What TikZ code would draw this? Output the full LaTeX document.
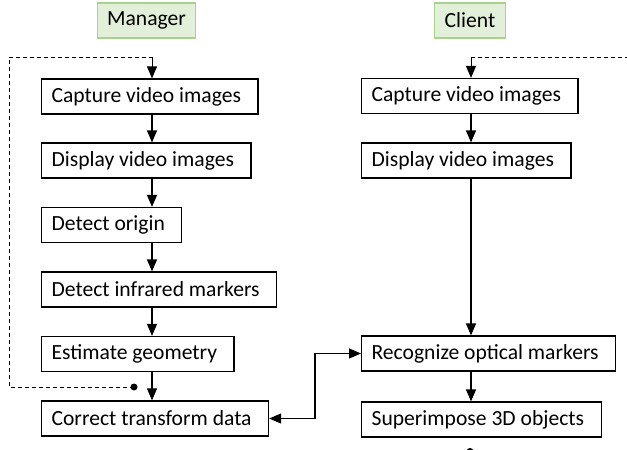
\documentclass[tikz,border=0pt]{standalone}
\usepackage{fontspec}
\setmainfont{Carlito}
\usetikzlibrary{arrows.meta}
\definecolor{rolefill}{HTML}{E2EFD9}
\definecolor{roledraw}{HTML}{A9D18E}

\begin{document}
\begin{tikzpicture}[x=0.5pt, y=-0.5pt,
   font=\fontsize{10.8}{13}\selectfont,
   >={Triangle[length=6pt,width=5pt]},
   stage/.style={draw, line width=0.6pt, anchor=west, minimum height=17.5pt,
                 inner xsep=5pt, inner ysep=0pt, execute at end node=\hspace{3.5pt}},
   role/.style={draw=roledraw, fill=rolefill, line width=0.6pt, minimum height=17.5pt,
                inner xsep=5pt, inner ysep=0pt},
   flowarrow/.style={->, line width=0.6pt},
   feedback/.style={dash pattern=on 2pt off 1.5pt, line width=0.5pt}]

\useasboundingbox (0,0) rectangle (627,450);

\node[role] (mgr) at (146.5,20.5) {Manager};
\node[role] (cli) at (470,20.5) {Client};

\node[stage] (mcap)  at (41,96.5)  {Capture video images};
\node[stage] (mdisp) at (41,160.5) {Display video images};
\node[stage] (morig) at (41,225)   {Detect origin};
\node[stage] (mir)   at (41,289.5) {Detect infrared markers};
\node[stage] (mgeo)  at (41,354)   {Estimate geometry};
\node[stage] (mcorr) at (41,418.5) {Correct transform data};

\node[stage] (ccap)  at (361,96)    {Capture video images};
\node[stage] (cdisp) at (361,160.5) {Display video images};
\node[stage] (crec)  at (361,353.5) {Recognize optical markers};
\node[stage] (csup)  at (361,419.5) {Superimpose 3D objects};

\coordinate (mx) at (152,0);
\coordinate (cx) at (471,0);
\coordinate (bend) at (315,0);
\coordinate (mdot) at (134,387);
\coordinate (cdot) at (470,451.5);

\draw[flowarrow] (mcap.south -| mx)  -- (mdisp.north -| mx);
\draw[flowarrow] (mdisp.south -| mx) -- (morig.north -| mx);
\draw[flowarrow] (morig.south -| mx) -- (mir.north -| mx);
\draw[flowarrow] (mir.south -| mx)   -- (mgeo.north -| mx);
\draw[flowarrow] (mgeo.south -| mx)  -- (mcorr.north -| mx);

\draw[flowarrow] (ccap.south -| cx)  -- (cdisp.north -| cx);
\draw[flowarrow] (cdisp.south -| cx) -- (crec.north -| cx);
\draw[flowarrow] (crec.south -| cx)  -- (csup.north -| cx);

\draw[<->, line width=0.6pt] (mcorr.east) -- (mcorr.east -| bend) |- (crec.west);

\draw[feedback] (mdot) -- (9,387) -- (9,57) -- (152,57);
\draw[flowarrow, line width=0.5pt] (152,57) -- (mcap.north -| mx);
\fill (mdot) circle (1.75pt);

\draw[feedback] (cdot) -- (660,451.5) -- (660,57) -- (471,57);
\draw[flowarrow, line width=0.5pt] (471,57) -- (ccap.north -| cx);
\fill (cdot) circle (1.75pt);

\end{tikzpicture}
\end{document}
